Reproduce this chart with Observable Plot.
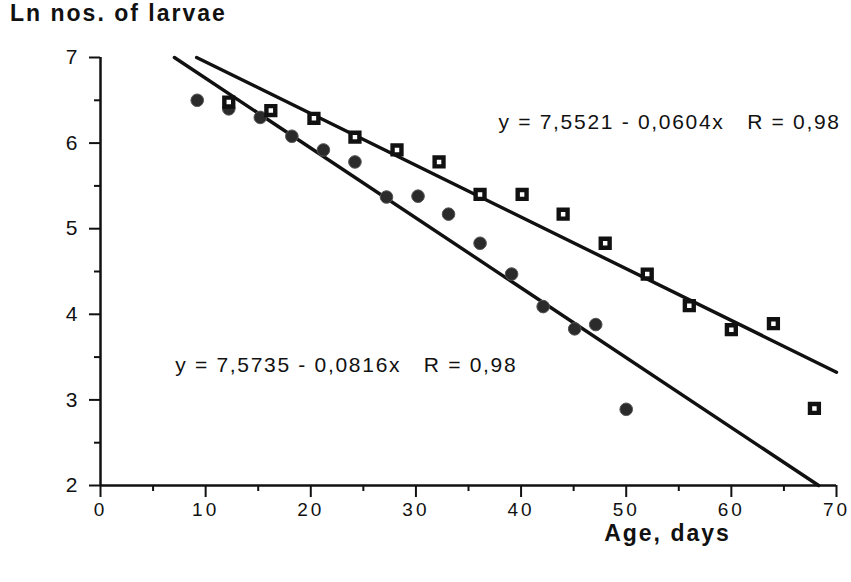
<!DOCTYPE html>
<html>
<head>
<meta charset="utf-8">
<script src="https://cdn.jsdelivr.net/npm/d3@7"></script>
<script src="https://cdn.jsdelivr.net/npm/@observablehq/plot@0.6"></script>
<style>
  html, body { margin: 0; padding: 0; background: #fff; }
  #title { height: 40px; line-height: 40px; padding-left: 10px; font: bold 23px "Liberation Sans", Arial, Helvetica, sans-serif; letter-spacing: 2px; color: #111; }
  svg g[aria-label="x-axis tick label"] text { letter-spacing: 3px; }
  svg g.eq text { letter-spacing: 1.7px; }
  svg g.xlab text { letter-spacing: 2px; }
</style>
</head>
<body>
<div id="title">Ln nos. of larvae</div>
<div id="chart"></div>
<script>
// Series 1 (filled dots)
const agesDot = [9.2, 12.2, 15.2, 18.2, 21.2, 24.2, 27.2, 30.2, 33.1, 36.1, 39.1, 42.1, 45.1, 47.1, 50.0];
const lnDot   = [6.50, 6.40, 6.30, 6.08, 5.92, 5.78, 5.37, 5.38, 5.17, 4.83, 4.47, 4.09, 3.83, 3.88, 2.89];
// Series 2 (open squares)
const agesSq = [12.2, 16.2, 20.3, 24.2, 28.2, 32.2, 36.1, 40.1, 44.0, 48.0, 52.0, 56.0, 60.0, 64.0, 67.9];
const lnSq   = [6.48, 6.38, 6.29, 6.07, 5.92, 5.78, 5.40, 5.40, 5.17, 4.83, 4.47, 4.10, 3.82, 3.89, 2.90];
// Regression lines: intercept, slope
const fitDot = [7.5735, -0.0816];
const fitSq  = [7.5521, -0.0604];
const eqLabels = ["y = 7,5521 - 0,0604x   R = 0,98", "y = 7,5735 - 0,0816x   R = 0,98"];
const xTicks = [0, 10, 20, 30, 40, 50, 60, 70];
const xMinor = [5, 15, 25, 35, 45, 55, 65];
const yTicks = [2, 3, 4, 5, 6, 7];
const yMinor = [2.5, 3.5, 4.5, 5.5, 6.5];
const xLabel = "Age, days";

const xDom = [0, 70], yDom = [2, 7];
const dots = agesDot.map((a, i) => ({age: a, ln: lnDot[i]}));
const sqs = agesSq.map((a, i) => ({age: a, ln: lnSq[i]}));
function fitLine([a, b]) {
  // y = a + b x  ->  x = (y - a) / b ; b < 0
  const x0 = Math.max(xDom[0], (yDom[1] - a) / b);
  const x1 = Math.min(xDom[1], (yDom[0] - a) / b);
  return [x0, x1].map(x => ({age: x, ln: a + b * x}));
}

const font = '"Liberation Sans", Arial, Helvetica, sans-serif';
const chart = Plot.plot({
  width: 851,
  height: 542,
  marginLeft: 100,
  marginRight: 15,
  marginTop: 17,
  marginBottom: 97,
  style: {fontFamily: font, color: "#111", background: "#fff"},
  x: {domain: xDom},
  y: {domain: yDom},
  marks: [
    Plot.axisY(yTicks, {tickSize: 11, tickPadding: 12, fontSize: 21, strokeWidth: 2, tickFormat: d3.format("d"), label: null}),
    Plot.axisY(yMinor, {tickSize: 6, strokeWidth: 2, fill: "none", label: null}),
    Plot.axisX(xTicks, {tickSize: 12, tickPadding: 5, fontSize: 19, strokeWidth: 2, tickFormat: d3.format("d"), label: null}),
    Plot.axisX(xMinor, {tickSize: 6, strokeWidth: 2, fill: "none", label: null}),
    Plot.ruleX([0], {y1: yDom[0], y2: yDom[1], strokeWidth: 2.5}),
    Plot.ruleY([2], {x1: xDom[0], x2: xDom[1], strokeWidth: 2.5}),
    Plot.line(fitLine(fitDot), {x: "age", y: "ln", strokeWidth: 3.4, stroke: "#111"}),
    Plot.line(fitLine(fitSq), {x: "age", y: "ln", strokeWidth: 3.4, stroke: "#111"}),
    Plot.dot(dots, {x: "age", y: "ln", r: 6.3, fill: "#2b2b2b", stroke: "#555", strokeWidth: 1}),
    Plot.dot(sqs, {x: "age", y: "ln", symbol: "square", r: 5, fill: "#fff", stroke: "#111", strokeWidth: 4.4}),
    Plot.text([eqLabels[0]], {x: 70.4, y: 6.24, textAnchor: "end", fontSize: 21, fill: "#111", className: "eq"}),
    Plot.text([eqLabels[1]], {x: 7.1, y: 3.41, textAnchor: "start", fontSize: 21, fill: "#111", className: "eq"}),
    Plot.text([xLabel], {frameAnchor: "bottom", dx: 199, dy: 55, fontSize: 23, fontWeight: "bold", fill: "#111", className: "xlab"})
  ]
});
document.getElementById("chart").appendChild(chart);
</script>
</body>
</html>
